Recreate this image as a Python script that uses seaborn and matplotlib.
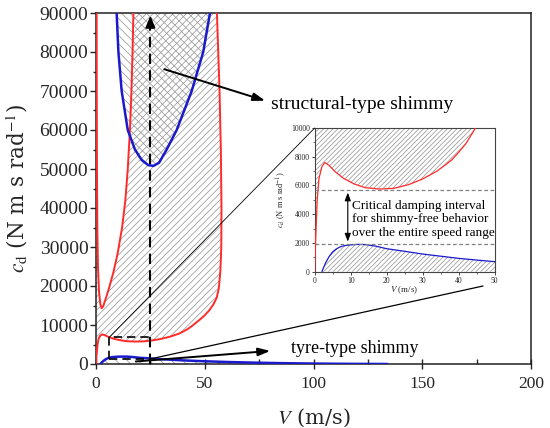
import numpy as np
import pandas as pd
import matplotlib
matplotlib.use("Agg")
import matplotlib.pyplot as plt
import seaborn as sns
from matplotlib.patches import ConnectionPatch
from matplotlib.ticker import MultipleLocator

# ---------------- data ----------------
# lower boundary of the structural-type shimmy region (red)
lower_v = [0, 0.3, 0.7, 1.2, 2.0, 2.8, 4.0, 5.5, 8, 11, 14, 18, 22, 26, 30, 34,
           38, 40, 42, 44, 46, 48, 50, 52, 54, 55.5, 56.5, 57.2, 57.6, 57.7,
           57.4, 56.8, 56.2, 55.6]
lower_c = [0, 2500, 5000, 6500, 7300, 7600, 7400, 7000, 6500, 6100, 5850, 5750,
           5800, 6050, 6450, 7000, 7750, 8300, 8900, 9700, 10600, 11500, 12500,
           13700, 15300, 17000, 19500, 24000, 30000, 40000, 55000, 70000,
           80000, 90000]
# U-shaped red curve (stable pocket)
u_v = [0.3, 0.35, 0.45, 0.6, 0.9, 1.4, 2.0, 2.6, 3.3, 4.5, 6, 8, 10, 12, 13.5,
       14.6, 15.6, 16.3, 16.8, 17.2]
u_c = [90000, 70000, 50000, 35000, 25000, 18500, 15300, 14300, 14800, 16800,
       19500, 23500, 28500, 35000, 42000, 50000, 60000, 70000, 80000, 90000]
# blue parabola (upper structural branch)
par_v = [9.5, 10.3, 11.8, 14.6, 17.9, 21, 24, 26.4, 29, 32.5, 37.1, 44, 49.3, 52.4]
par_c = [90000, 80000, 70000, 60000, 55000, 52300, 51000, 50800, 51600, 55000,
         60000, 70000, 80000, 90000]
# tyre-type shimmy boundary (blue)
tyre_v = [2, 3, 4, 5, 6, 7, 8, 10, 12, 14, 17, 20, 25, 30, 35, 40, 45, 50, 60,
          70, 80, 90, 100, 110, 120, 130, 134]
tyre_c = [0, 600, 1050, 1380, 1580, 1720, 1800, 1870, 1900, 1890, 1780, 1600,
          1420, 1230, 1080, 930, 810, 700, 520, 380, 270, 180, 115, 65, 30, 8, 0]

crit_low = 1900
crit_high = 5700
v_crit = 25
box_v = [6, 25]
box_c = [1300, 6800]

main_yticks = list(range(0, 90001, 10000))
main_xticks = [0, 50, 100, 150, 200]
inset_xticks = [0, 10, 20, 30, 40, 50]
inset_yticks = [0, 2000, 4000, 6000, 8000, 10000]

# ---------------- style ----------------
sns.set_theme(style="ticks")
plt.rcParams["font.family"] = ["Liberation Serif", "DejaVu Serif"]
plt.rcParams["mathtext.fontset"] = "stix"
plt.rcParams["hatch.linewidth"] = 0.5
plt.rcParams["axes.edgecolor"] = "#222222"

RED = "#ff2a2a"
BLUE = "#1a1acc"
HATCH = "#909090"

fig = plt.figure(figsize=(5.5, 4.28), dpi=100)
W, H = 550, 428
ax = fig.add_axes([96 / W, (H - 364) / H, 435 / W, 351 / H])
axin = fig.add_axes([314.7 / W, (H - 271.7) / H, 179.8 / W, 143.7 / H])

poly_v = lower_v + u_v[::-1] + [0]
poly_c = lower_c + u_c[::-1] + [90000]


def draw_curves(a, lw_r, lw_b, red_hatch, par_hatch, tyre_hatch):
    a.fill(poly_v, poly_c, facecolor="none", edgecolor=HATCH, hatch=red_hatch,
           linewidth=0, zorder=1)
    a.fill(par_v, par_c, facecolor="none", edgecolor=HATCH, hatch=par_hatch,
           linewidth=0, zorder=1)
    a.fill_between(tyre_v, 0, tyre_c, facecolor="none", edgecolor=HATCH,
                   hatch=tyre_hatch, linewidth=0, zorder=1)
    sns.lineplot(x=lower_v, y=lower_c, sort=False, estimator=None, color=RED,
                 lw=lw_r, ax=a, zorder=3)
    sns.lineplot(x=u_v, y=u_c, sort=False, estimator=None, color=RED,
                 lw=lw_r, ax=a, zorder=3)
    sns.lineplot(x=par_v, y=par_c, sort=False, estimator=None, color=BLUE,
                 lw=lw_b, ax=a, zorder=3)
    sns.lineplot(x=tyre_v, y=tyre_c, sort=False, estimator=None, color=BLUE,
                 lw=lw_b, ax=a, zorder=3)


# ---------------- main axes ----------------
draw_curves(ax, 1.4, 1.8, "/////", "\\\\\\\\", "\\\\\\")
ax.set_xlim(0, 200)
ax.set_ylim(0, 90000)
ax.set_xticks(main_xticks)
ax.set_yticks(main_yticks)
ax.xaxis.set_minor_locator(MultipleLocator(25))
ax.yaxis.set_minor_locator(MultipleLocator(5000))
ax.tick_params(axis="x", which="major", direction="inout", length=7, width=1,
               labelsize=12.5, pad=5)
ax.tick_params(axis="x", which="minor", direction="in", length=3.5, width=1)
ax.tick_params(axis="y", which="major", direction="out", length=4.5, width=1,
               labelsize=14, pad=1)
ax.tick_params(axis="y", which="minor", direction="out", length=2.5, width=1)
for s in ax.spines.values():
    s.set_linewidth(1.1)
ax.set_xlabel(r"$V$ (m/s)", fontsize=15, family="DejaVu Serif")
ax.set_ylabel(r"$c_\mathrm{d}$ (N m s rad$^{-1}$)", fontsize=15.5,
              family="DejaVu Serif")
ax.xaxis.set_label_coords(0.5, -0.12)
ax.yaxis.set_label_coords(-0.152, 0.5)

# dashed critical-speed line with arrow
ax.vlines(v_crit, 0, 86500, colors="black", linestyles=(0, (5, 3)), lw=1.5,
          zorder=4)
ax.annotate("", xy=(v_crit, 90000), xytext=(v_crit, 86000),
            arrowprops=dict(arrowstyle="-|>,head_width=0.25,head_length=0.6",
                            color="black", lw=1.2), zorder=5)
# dashed zoom box
ax.plot([box_v[0], box_v[0], box_v[1]], [box_c[0], box_c[1], box_c[1]],
        color="black", ls=(0, (5, 3)), lw=1.2, zorder=4)
ax.plot([box_v[0], box_v[1]], [box_c[0], box_c[0]],
        color="black", ls=(0, (5, 3)), lw=1.2, zorder=4)

# annotations
ax.annotate("", xy=(79, 67300), xytext=(30.2, 75800),
            arrowprops=dict(arrowstyle="-|>,head_width=0.2,head_length=0.6",
                            color="black", lw=1.4))
ax.text(80.5, 66600, "structural-type shimmy", fontsize=14, ha="left",
        va="center", color="black")
ax.annotate("", xy=(81.4, 3410), xytext=(17, 590),
            arrowprops=dict(arrowstyle="-|>,head_width=0.2,head_length=0.6",
                            color="black", lw=1.4))
ax.text(89.8, 4100, "tyre-type shimmy", fontsize=13, ha="left", va="center",
        color="black")

# ---------------- inset ----------------
axin.set_facecolor("white")
draw_curves(axin, 0.9, 0.9, "///////", "\\\\\\\\\\\\\\", "///////")
axin.set_xlim(0, 50)
axin.set_ylim(0, 10000)
axin.set_xticks(inset_xticks)
axin.set_yticks(inset_yticks)
axin.xaxis.set_minor_locator(MultipleLocator(5))
axin.yaxis.set_minor_locator(MultipleLocator(1000))
axin.tick_params(which="major", direction="out", length=2, width=0.6,
                 labelsize=5.5, pad=1.5)
axin.tick_params(which="minor", direction="out", length=1.2, width=0.5)
for s in axin.spines.values():
    s.set_linewidth(0.8)
    s.set_color("#444444")
axin.set_xlabel(r"$V$ (m/s)", fontsize=6.5)
axin.set_ylabel(r"$c_d$ (N m s rad$^{-1}$)", fontsize=6)
axin.xaxis.set_label_coords(0.5, -0.09)
axin.yaxis.set_label_coords(-0.15, 0.5)
axin.axhline(crit_high, color="#808080", ls=(0, (3, 2)), lw=0.9, zorder=4)
axin.axhline(crit_low, color="#808080", ls=(0, (3, 2)), lw=0.9, zorder=4)
axin.annotate("", xy=(9.2, crit_low), xytext=(9.2, crit_high),
              arrowprops=dict(arrowstyle="<|-|>,head_width=0.15,head_length=0.4",
                              color="black", lw=0.8), zorder=5)
axin.text(10.3, 3645,
          "Critical damping interval\nfor shimmy-free behavior\nover the entire speed range",
          fontsize=9.5, ha="left", va="center", color="black", zorder=6,
          linespacing=1.2)

# zoom connection lines
con1 = ConnectionPatch(xyA=(box_v[0], box_c[1]), coordsA=ax.transData,
                       xyB=(0, 10000), coordsB=axin.transData,
                       color="black", lw=0.6)
fig.add_artist(con1)
con2 = ConnectionPatch(xyA=(box_v[1], box_c[0]), coordsA=ax.transData,
                       xyB=(483 / W, 1 - 286 / H), coordsB="figure fraction",
                       color="black", lw=0.9)
fig.add_artist(con2)

fig.savefig("out.png", dpi=100)
